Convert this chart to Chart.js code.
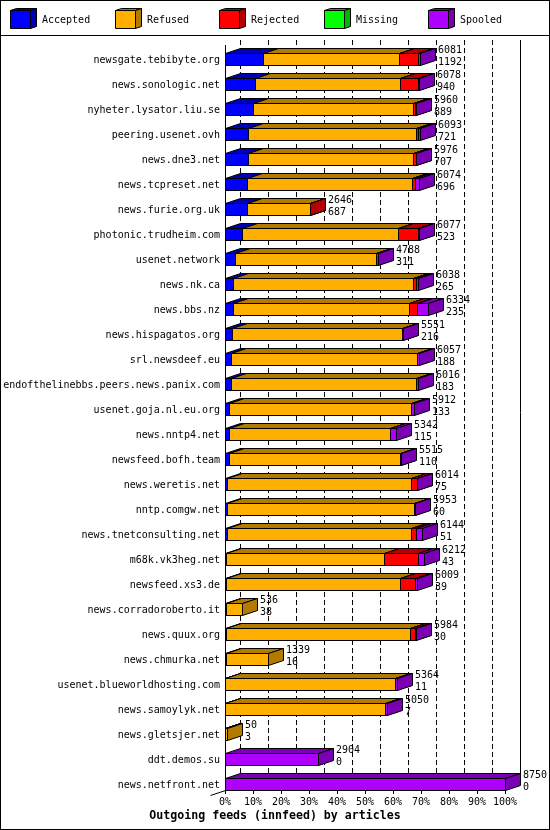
<!DOCTYPE html>
<html>
<head>
<meta charset="utf-8">
<script src="https://cdn.jsdelivr.net/npm/chart.js@4"></script>
<style>
  html, body { margin: 0; padding: 0; background: #fff; }
  canvas { display: block; }
</style>
</head>
<body>
<canvas id="feedChart" width="550" height="830"></canvas>
<script>
// hosts, top to bottom
const hosts = [
  'newsgate.tebibyte.org', 'news.sonologic.net', 'nyheter.lysator.liu.se',
  'peering.usenet.ovh', 'news.dne3.net', 'news.tcpreset.net',
  'news.furie.org.uk', 'photonic.trudheim.com', 'usenet.network',
  'news.nk.ca', 'news.bbs.nz', 'news.hispagatos.org', 'srl.newsdeef.eu',
  'endofthelinebbs.peers.news.panix.com', 'usenet.goja.nl.eu.org',
  'news.nntp4.net', 'newsfeed.bofh.team', 'news.weretis.net',
  'nntp.comgw.net', 'news.tnetconsulting.net', 'm68k.vk3heg.net',
  'newsfeed.xs3.de', 'news.corradoroberto.it', 'news.quux.org',
  'news.chmurka.net', 'usenet.blueworldhosting.com', 'news.samoylyk.net',
  'news.gletsjer.net', 'ddt.demos.su', 'news.netfront.net'
];

// article counts per host
const accepted = [1192, 940, 889, 721, 707, 696, 687, 523, 311, 265, 235, 216, 188, 183, 133,
                  115, 110, 75, 60, 51, 43, 39, 38, 30, 16, 11, 7, 3, 0, 0];
const refused  = [4250, 4540, 4990, 5250, 5180, 5140, 1954, 4880, 4420, 5600, 5520, 5300, 5810, 5780, 5670,
                  5050, 5360, 5730, 5860, 5760, 4930, 5420, 498, 5740, 1323, 5310, 4990, 47, 0, 0];
const rejected = [580, 540, 45, 50, 80, 115, 5, 620, 0, 110, 260, 0, 0, 0, 0,
                  0, 0, 180, 0, 170, 1050, 480, 0, 180, 0, 0, 0, 0, 0, 0];
const missing  = [0, 0, 0, 0, 0, 0, 0, 0, 0, 0, 0, 0, 0, 0, 0,
                  0, 0, 0, 0, 0, 0, 0, 0, 0, 0, 0, 0, 0, 0, 0];
const spooled  = [59, 58, 36, 72, 9, 123, 0, 54, 57, 63, 319, 35, 59, 53, 109,
                  177, 45, 29, 33, 163, 189, 70, 0, 34, 0, 43, 53, 0, 2904, 8750];
// totals printed at the end of each bar
const totals   = [6081, 6078, 5960, 6093, 5976, 6074, 2646, 6077, 4788, 6038, 6334, 5551, 6057, 6016, 5912,
                  5342, 5515, 6014, 5953, 6144, 6212, 6009, 536, 5984, 1339, 5364, 5050, 50, 2904, 8750];

const maxTotal = 8750;   // 100%
const xTicks = [0, 10, 20, 30, 40, 50, 60, 70, 80, 90, 100];

const seriesNames = ['Accepted', 'Refused', 'Rejected', 'Missing', 'Spooled'];
const frontColors = ['#0000ff', '#ffaf00', '#ff0000', '#00ff00', '#af00ff'];
const sideColors  = ['#0000b3', '#b37a00', '#b30000', '#00b300', '#7a00b3'];

const FONT = '"DejaVu Sans Mono", "Liberation Mono", monospace';
const DX = 15, DY = 5, HALF = 6;

function poly(ctx, pts, fill) {
  ctx.beginPath();
  pts.forEach((p, i) => i ? ctx.lineTo(p[0] + 0.5, p[1] + 0.5) : ctx.moveTo(p[0] + 0.5, p[1] + 0.5));
  ctx.closePath();
  ctx.fillStyle = fill;
  ctx.fill();
  ctx.stroke();
}

function box3d(ctx, x0, x1, t, b, dx, dy, front, side) {
  poly(ctx, [[x0, t], [x1, t], [x1, b], [x0, b]], front);
  poly(ctx, [[x0, t], [x0 + dx, t - dy], [x1 + dx, t - dy], [x1, t]], side);
  poly(ctx, [[x1, t], [x1 + dx, t - dy], [x1 + dx, b - dy], [x1, b]], side);
}

const bars3d = {
  id: 'bars3d',
  beforeDatasetsDraw(chart) {
    const ctx = chart.ctx;
    const xs = chart.scales.x;
    const area = chart.chartArea;
    const frontTop = Math.round(area.top - 1.5);
    const frontBottom = Math.round(area.bottom - 6.5);
    ctx.save();
    ctx.strokeStyle = '#000';
    ctx.lineWidth = 1;

    // back grid lines
    xTicks.forEach((p, k) => {
      const x = Math.round(xs.getPixelForValue(p / 100 * maxTotal)) + DX + 0.5;
      ctx.setLineDash(k === xTicks.length - 1 ? [] : [5, 3]);
      ctx.beginPath();
      ctx.moveTo(x, frontTop - DY);
      ctx.lineTo(x, frontBottom - DY);
      ctx.stroke();
    });
    ctx.setLineDash([]);

    // front axis
    const x0 = Math.round(xs.getPixelForValue(0));
    const x100 = Math.round(xs.getPixelForValue(maxTotal));
    ctx.beginPath();
    ctx.moveTo(x0 + 0.5, frontTop);
    ctx.lineTo(x0 + 0.5, frontBottom + 0.5);
    ctx.lineTo(x100 + 0.5, frontBottom + 0.5);
    ctx.moveTo(x0 + 0.5, frontBottom + 0.5);
    ctx.lineTo(x0 - DX + 0.5, frontBottom + DY + 0.5);
    xTicks.forEach(p => {
      const x = Math.round(xs.getPixelForValue(p / 100 * maxTotal)) + 0.5;
      ctx.moveTo(x, frontBottom);
      ctx.lineTo(x, frontBottom + 4);
    });
    ctx.stroke();

    // 3d stacked bars, segment by segment
    const metas = chart.data.datasets.map((d, i) => chart.getDatasetMeta(i));
    hosts.forEach((h, j) => {
      metas.forEach((m, k) => {
        const v = chart.data.datasets[k].data[j];
        if (!v) return;
        const el = m.data[j];
        const a = Math.round(el.base), b = Math.round(el.x), yc = Math.round(el.y);
        box3d(ctx, a, b, yc - HALF, yc + HALF, DX, DY, frontColors[k], sideColors[k]);
      });
      const end = metas[metas.length - 1].data[j];
      const xe = Math.round(end.x) + DX + 3;
      const yc = Math.round(end.y);
      ctx.fillStyle = '#000';
      ctx.font = '10px ' + FONT;
      ctx.textAlign = 'left';
      ctx.textBaseline = 'middle';
      ctx.fillText(String(totals[j]), xe, yc - 9);
      ctx.fillText(String(accepted[j]), xe, yc + 3);
    });
    ctx.restore();
    return false;
  },
  afterDraw(chart) {
    const ctx = chart.ctx;
    ctx.save();
    ctx.strokeStyle = '#000';
    ctx.lineWidth = 1;
    // frame and legend separator
    ctx.strokeRect(0.5, 0.5, chart.width - 1, chart.height - 1);
    ctx.beginPath();
    ctx.moveTo(0, 35.5);
    ctx.lineTo(chart.width, 35.5);
    ctx.stroke();
    // legend
    chart.data.datasets.forEach((ds, i) => {
      const x = Math.round(10 + 104.6 * i);
      box3d(ctx, x, x + 20, 10, 28, 6, 2, frontColors[i], sideColors[i]);
      ctx.fillStyle = '#000';
      ctx.font = '10px ' + FONT;
      ctx.textAlign = 'left';
      ctx.textBaseline = 'middle';
      ctx.fillText(ds.label, x + 32, 20);
    });
    // title
    ctx.font = 'bold 11.6px ' + FONT;
    ctx.textAlign = 'center';
    ctx.fillText('Outgoing feeds (innfeed) by articles', chart.width / 2, 816);
    ctx.restore();
  }
};

const seriesData = [accepted, refused, rejected, missing, spooled];

const ctx = document.getElementById('feedChart').getContext('2d');
const feedChart = new Chart(ctx, {
  type: 'bar',
  data: {
    labels: hosts,
    datasets: seriesNames.map((name, i) => ({
      label: name,
      data: seriesData[i],
      backgroundColor: frontColors[i],
      borderColor: '#000',
      borderWidth: 1,
      barThickness: 12
    }))
  },
  options: {
    indexAxis: 'y',
    responsive: false,
    animation: false,
    events: [],
    layout: { padding: { top: 46.5, right: 45, bottom: 0, left: 0 } },
    scales: {
      x: {
        type: 'linear',
        stacked: true,
        min: 0,
        max: maxTotal,
        grid: { display: false, drawTicks: false },
        border: { display: false },
        ticks: {
          stepSize: maxTotal / 10,
          autoSkip: false,
          maxRotation: 0,
          minRotation: 0,
          padding: 0,
          color: '#000',
          font: { family: FONT, size: 10 },
          callback: v => Math.round(v / maxTotal * 100) + '%'
        },
        afterFit: s => { s.height = 33.5; }
      },
      y: {
        type: 'category',
        stacked: true,
        grid: { display: false, drawTicks: false },
        border: { display: false },
        ticks: {
          autoSkip: false,
          padding: 5,
          labelOffset: 1,
          color: '#000',
          font: { family: FONT, size: 10 }
        },
        afterFit: s => { s.width = 225; }
      }
    },
    plugins: {
      legend: { display: false },
      tooltip: { enabled: false },
      title: { display: false }
    }
  },
  plugins: [bars3d]
});
</script>
</body>
</html>
